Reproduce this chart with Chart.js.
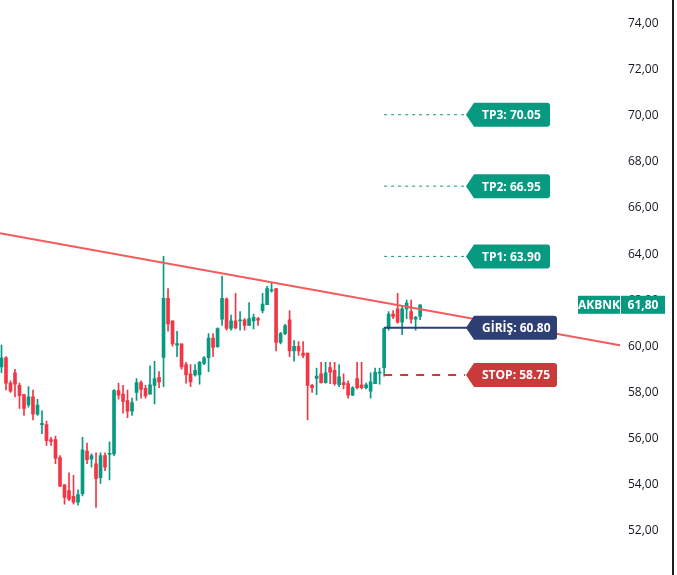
<!DOCTYPE html>
<html>
<head>
<meta charset="utf-8">
<script src="https://cdn.jsdelivr.net/npm/chart.js@4.4.1/dist/chart.umd.min.js"></script>
<style>
  html, body { margin: 0; padding: 0; background: #fff; overflow: hidden; }
  #c { display: block; }
</style>
</head>
<body>
<canvas id="c" width="677" height="575"></canvas>
<script>
// OHLC okunan değerler (indeks 0..93)
const opens = [59.1,59.5,58.4,58.85,58.3,57.9,57.45,57.8,57.05,56.6,56.6,55.95,55.95,55.17,53.98,53.73,53.48,53.23,53.6,55.45,55.1,54.9,54.3,55.25,55.3,55.33,58.08,57.92,57.64,57.18,58.0,58.42,58.17,57.92,58.3,58.65,59.52,62.08,61.1,60.05,60.1,59.2,58.8,58.75,58.75,59.25,59.5,60.35,59.98,61.17,62.05,60.77,61.1,61.1,61.15,60.9,61.1,61.2,61.54,61.8,62.4,62.5,60.17,60.55,61.15,59.8,60.0,59.7,59.7,58.3,58.6,58.8,58.42,59.07,58.95,58.33,58.42,58.38,57.88,58.6,58.33,58.2,58.05,58.38,58.83,59.07,60.8,61.4,61.62,61.05,61.62,61.5,61.17,61.3];
const closes = [59.5,58.4,58.05,58.35,57.85,57.3,57.8,57.05,57.45,56.65,55.9,55.87,55.13,53.93,53.44,53.36,53.23,53.56,55.5,55.08,55.25,54.25,55.25,54.75,55.35,58.08,57.88,57.6,57.18,57.55,58.42,58.13,57.84,58.33,58.6,58.45,62.08,60.97,60.1,60.12,59.1,58.75,58.45,58.95,59.3,59.5,60.35,59.95,60.77,62.08,60.77,61.1,60.8,61.15,60.9,61.2,61.25,61.13,61.83,62.5,62.45,60.17,60.55,60.9,59.8,60.0,59.8,59.6,58.3,58.2,58.7,58.42,58.85,58.87,58.38,58.67,58.33,57.88,58.2,58.2,58.2,58.33,58.45,58.87,58.87,60.77,61.4,61.3,61.05,61.62,61.87,61.17,61.25,61.8];
const highs = [60.05,59.55,58.5,59.0,58.4,57.9,58.25,58.1,57.7,57.2,56.75,56.05,56.1,55.25,54.0,54.5,54.4,53.77,56.05,55.8,55.33,55.37,55.37,55.37,55.85,58.12,58.4,58.3,58.1,57.75,58.6,58.5,58.3,59.15,59.35,58.9,63.9,62.5,61.1,60.65,60.1,59.3,59.2,59.2,59.35,59.55,60.55,60.55,60.8,63.05,62.1,61.35,62.3,61.5,61.2,61.9,61.4,61.25,62.3,62.6,62.75,62.5,60.6,60.95,61.55,60.25,60.2,60.2,59.7,58.35,59.05,59.3,59.3,59.3,59.3,59.2,58.8,58.5,58.25,59.3,59.3,58.4,58.85,59.05,59.05,60.8,61.5,61.55,62.3,61.75,62.0,62.0,61.3,61.8];
const lows = [58.85,58.1,58.0,57.8,57.3,57.0,57.35,56.8,57.0,56.2,55.7,55.7,54.9,53.9,53.15,53.3,53.15,53.1,53.5,54.9,54.75,53.0,54.05,54.6,54.2,55.25,57.7,57.1,56.9,57.0,57.65,57.75,57.75,57.92,57.5,58.2,58.25,60.65,60.0,59.55,59.0,58.4,58.25,58.7,58.35,59.2,58.9,59.55,59.95,60.9,60.7,60.7,60.75,60.7,60.7,60.9,60.75,60.9,61.45,61.8,62.35,59.8,60.1,60.5,59.55,59.35,59.6,59.5,56.8,58.0,57.9,58.4,58.4,58.38,58.3,58.25,58.15,57.75,57.85,58.15,58.15,58.15,57.75,58.38,58.35,58.7,60.7,61.2,61.0,60.5,61.2,61.0,60.7,61.15];

// Seviyeler
const tpLevels = [63.90, 66.95, 70.05];
const tpNames = ['TP1', 'TP2', 'TP3'];
const entryLevel = 60.80;
const stopLevel = 58.75;
const lastPrice = 61.80;
const symbol = 'AKBNK';
const trendStart = { x: -0.33, y: 64.91 };
const trendEnd = { x: 137.4, y: 60.04 };
const yTicks = [52, 54, 56, 58, 60, 62, 64, 66, 68, 70, 72, 74];

const UP = '#089981', DOWN = '#f23645';
const idx = opens.map((_, i) => i);
const candleColor = idx.map(i => closes[i] >= opens[i] ? UP : DOWN);
const fmt = v => v.toFixed(2).replace('.', ',');

const levelLine = (y, x0, x1, color, width, dash) => ({
  type: 'line', data: [{ x: x0, y }, { x: x1, y }],
  borderColor: color, borderWidth: width, borderDash: dash,
  pointRadius: 0, order: 0
});

// --- Etiket kutuları ---
function tagBox(ctx, x, yMid, w, text, bg) {
  const h = 24, r = 3, top = yMid - h / 2;
  ctx.fillStyle = bg;
  ctx.beginPath();
  ctx.moveTo(x - 8, yMid);
  ctx.lineTo(x, top);
  ctx.lineTo(x + w - r, top);
  ctx.quadraticCurveTo(x + w, top, x + w, top + r);
  ctx.lineTo(x + w, top + h - r);
  ctx.quadraticCurveTo(x + w, top + h, x + w - r, top + h);
  ctx.lineTo(x, top + h);
  ctx.closePath();
  ctx.fill();
  ctx.fillStyle = '#fff';
  ctx.font = 'bold 12px "Open Sans", sans-serif';
  ctx.textAlign = 'left';
  ctx.textBaseline = 'middle';
  ctx.fillText(text, x + 8, yMid + 1);
}

const labelsPlugin = {
  id: 'labels',
  afterDraw(chart) {
    const ctx = chart.ctx, y = chart.scales.y;
    ctx.save();
    tpLevels.forEach((v, i) => tagBox(ctx, 474, y.getPixelForValue(v), 76,
      `${tpNames[i]}: ${v.toFixed(2)}`, UP));
    tagBox(ctx, 474, y.getPixelForValue(entryLevel), 83, `GİRİŞ: ${entryLevel.toFixed(2)}`, '#2e3f73');
    tagBox(ctx, 474, y.getPixelForValue(stopLevel), 83, `STOP: ${stopLevel.toFixed(2)}`, '#c93a3a');

    // Son fiyat etiketi
    const py = y.getPixelForValue(lastPrice);
    ctx.fillStyle = UP;
    ctx.fillRect(578, py - 9, 42, 18);
    ctx.fillRect(621, py - 9, 44, 18);
    ctx.fillStyle = '#fff';
    ctx.font = 'bold 12px "Open Sans", sans-serif';
    ctx.textBaseline = 'middle';
    ctx.textAlign = 'center';
    ctx.fillText(symbol, 599, py + 1);
    ctx.fillText(fmt(lastPrice), 643, py + 1);

    // sağ kenar çizgisi
    ctx.fillStyle = '#1e1e1e';
    ctx.fillRect(672, 0, 2, 575);
    ctx.restore();
  }
};

new Chart(document.getElementById('c'), {
  type: 'bar',
  data: {
    labels: idx,
    datasets: [
      { data: idx.map(i => [lows[i], highs[i]]), backgroundColor: candleColor,
        barThickness: 1, grouped: false, order: 2 },
      { data: idx.map(i => [opens[i], closes[i]]), backgroundColor: candleColor,
        barThickness: 3, minBarLength: 1, grouped: false, order: 1 },
      { type: 'line', data: [trendStart, trendEnd], borderColor: '#f45b5b',
        borderWidth: 2, pointRadius: 0, order: 0 },
      ...tpLevels.map(v => levelLine(v, 85, 104, UP, 1, [3, 4])),
      levelLine(entryLevel, 85, 104, '#2e3f73', 2, []),
      levelLine(stopLevel, 85, 103, '#c93a3a', 2, [8, 8])
    ]
  },
  options: {
    animation: false,
    responsive: false,
    devicePixelRatio: 1,
    layout: { padding: 0 },
    plugins: { legend: { display: false }, tooltip: { enabled: false } },
    scales: {
      x: { type: 'linear', display: false, min: -0.33, max: 137.4, offset: false },
      y: {
        position: 'right', min: 50.73, max: 74.37,
        afterBuildTicks: s => { s.ticks = yTicks.map(v => ({ value: v })); },
        afterFit: s => { s.width = 57; },
        grid: { display: false, drawTicks: false },
        border: { display: false },
        ticks: { padding: 8, autoSkip: false, color: '#131722',
                 font: { size: 12, family: '"Open Sans", sans-serif' },
                 callback: v => fmt(v) }
      }
    }
  },
  plugins: [labelsPlugin]
});
</script>
</body>
</html>
